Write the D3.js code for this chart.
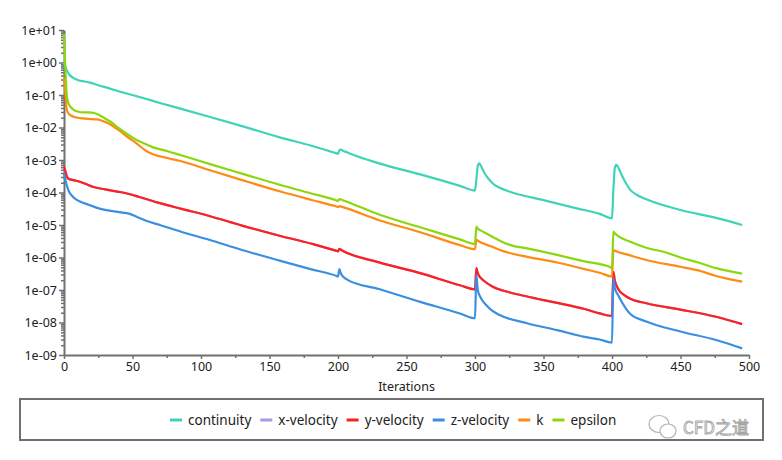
<!DOCTYPE html>
<html>
<head>
<meta charset="utf-8">
<script src="https://cdn.jsdelivr.net/npm/d3@7"></script>
<style>
  body { margin: 0; background: #fff; }
  svg text { font-family: "Noto Sans", sans-serif; fill: #222; }
</style>
</head>
<body>
<svg class="chart"></svg>
<script>
// residuals, [iteration, value]
var continuity = [[0,1.0],[1,0.75],[2,0.58],[4,0.42],[7,0.33],[11,0.28],[15,0.26],[19,0.24],[25,0.2],[33,0.16],[41,0.126],[55,0.087],[70,0.057],[85,0.038],[106,0.0215],[130,0.011],[158,4.9e-3],[180,2.8e-3],[199,1.6e-3],[200,1.55e-3],[201,2.0e-3],[202,2.1e-3],[204,1.9e-3],[207,1.7e-3],[210,1.5e-3],[230,7.9e-4],[260,3.6e-4],[289,1.6e-4],[300,1.15e-4],[301,2.5e-4],[302,6.5e-4],[303,7.9e-4],[304,7.0e-4],[307,3.9e-4],[310,2.6e-4],[313,1.9e-4],[318,1.4e-4],[325,1.07e-4],[350,5.8e-5],[375,3.2e-5],[391,2.2e-5],[400,1.6e-5],[401,1.2e-4],[402,5.5e-4],[403,7.1e-4],[404,6.5e-4],[407,3.5e-4],[410,2.0e-4],[413,1.25e-4],[418,8.5e-5],[425,6.2e-5],[450,2.9e-5],[476,1.65e-5],[495,1.0e-5]]

var yVelocity = [[0,6.3e-4],[1,4.5e-4],[2,3.2e-4],[3,2.7e-4],[6,2.45e-4],[9,2.3e-4],[15,1.9e-4],[21,1.5e-4],[30,1.25e-4],[40,1.05e-4],[46,9.3e-5],[55,7.3e-5],[70,4.7e-5],[85,3.2e-5],[106,1.9e-5],[130,9.6e-6],[158,4.6e-6],[180,2.7e-6],[199,1.6e-6],[200,1.55e-6],[201,1.85e-6],[203,1.65e-6],[230,7.1e-7],[260,3.3e-7],[289,1.4e-7],[300,1.05e-7],[301,4.7e-7],[302,3.3e-7],[304,2.4e-7],[306,2.0e-7],[313,1.26e-7],[325,8.5e-8],[338,6.3e-8],[360,4e-8],[380,2.6e-8],[391,1.9e-8],[400,1.6e-8],[401,3.6e-7],[402,2.0e-7],[405,1.0e-7],[409,7e-8],[413,5.5e-8],[425,3.9e-8],[450,2.5e-8],[476,1.5e-8],[495,8.9e-9]]

// x-velocity sits underneath y-velocity on the plot
var xVelocity = yVelocity

var zVelocity = [[0,3.9e-4],[1,2.5e-4],[2,1.7e-4],[3,1.25e-4],[4,1.0e-4],[6,7.8e-5],[9,6e-5],[12,5.2e-5],[18,4.2e-5],[26,3.2e-5],[35,2.7e-5],[43,2.4e-5],[48,2.2e-5],[53,1.8e-5],[60,1.35e-5],[70,1.0e-5],[85,6.3e-6],[106,3.5e-6],[130,1.7e-6],[158,7.9e-7],[180,4.4e-7],[199,2.7e-7],[200,2.6e-7],[201,4.4e-7],[202,3.3e-7],[204,2.5e-7],[207,2.05e-7],[230,1.07e-7],[260,4.3e-8],[289,1.9e-8],[300,1.35e-8],[301,2.9e-7],[302,1.0e-7],[304,6e-8],[308,3.5e-8],[312,2.4e-8],[318,1.7e-8],[338,9.5e-9],[360,5.8e-9],[380,3.6e-9],[391,3e-9],[400,2.4e-9],[401,2.3e-7],[402,1.2e-7],[405,6.3e-8],[409,3.2e-8],[413,1.9e-8],[425,1.07e-8],[450,5.3e-9],[476,2.9e-9],[495,1.6e-9]]

var k = [[0,0.33],[1,0.12],[2,0.035],[4,0.025],[7,0.0215],[10,0.02],[14,0.019],[20,0.018],[24,0.0178],[28,0.016],[33,0.013],[38,0.0095],[42,0.0072],[46,0.0052],[52,0.0035],[60,0.0019],[65,0.0015],[70,0.0013],[85,9.3e-4],[106,4.9e-4],[130,2.4e-4],[158,1.07e-4],[180,6e-5],[199,3.7e-5],[200,3.6e-5],[201,3.8e-5],[203,3.6e-5],[230,1.4e-5],[260,6e-6],[289,2.4e-6],[300,1.8e-6],[301,3.5e-6],[303,3.1e-6],[308,2.5e-6],[313,2.1e-6],[320,1.6e-6],[326,1.35e-6],[338,1.05e-6],[360,7e-7],[380,4.4e-7],[391,3.4e-7],[400,2.6e-7],[401,1.7e-6],[403,1.55e-6],[412,1.2e-6],[425,8.4e-7],[450,5.2e-7],[463,4.0e-7],[476,2.7e-7],[495,1.8e-7]]

var epsilon = [[0,7.5],[1,0.6],[2,0.1],[3,0.06],[5,0.042],[7,0.035],[10,0.031],[14,0.029],[18,0.029],[22,0.028],[26,0.024],[30,0.019],[35,0.014],[40,0.0095],[46,0.0063],[51,0.0046],[58,0.0033],[65,0.00245],[75,0.0019],[85,1.42e-3],[106,7.6e-4],[130,3.8e-4],[158,1.7e-4],[180,9.5e-5],[199,5.7e-5],[200,5.5e-5],[201,6.3e-5],[203,5.9e-5],[206,5.3e-5],[230,2.1e-5],[260,8.5e-6],[289,3.6e-6],[300,2.6e-6],[301,8.9e-6],[302,7.8e-6],[304,6.8e-6],[308,5.6e-6],[313,4.3e-6],[320,3.0e-6],[326,2.4e-6],[338,1.9e-6],[360,1.2e-6],[380,7.6e-7],[399,5e-7],[400,4.5e-7],[401,6.3e-6],[402,5.6e-6],[405,4.4e-6],[412,3.2e-6],[425,2.0e-6],[440,1.4e-6],[450,1.0e-6],[463,7.0e-7],[476,4.7e-7],[495,3.2e-7]]

var seriesNames  = ["continuity","x-velocity","y-velocity","z-velocity","k","epsilon"]
var seriesData   = [continuity, xVelocity, yVelocity, zVelocity, k, epsilon]
var seriesColors = ["#3fd3b8","#a99be3","#ff1f1f","#3a8fe0","#ff8a14","#8ad80c"]

var xTicks = [0,50,100,150,200,250,300,350,400,450,500]
var yTicks = [1e1,1e0,1e-1,1e-2,1e-3,1e-4,1e-5,1e-6,1e-7,1e-8,1e-9]

var W = 782, H = 460
var margin = {top: 30, right: 33, bottom: 105, left: 64},
    width  = W-margin.left-margin.right,
    height = H-margin.top-margin.bottom

var chart = d3.select(".chart")
              .attr("width", W)
              .attr("height", H)

var x = d3.scaleLinear().domain([0,500]).range([margin.left, margin.left+width])
var y = d3.scaleLog().domain([1e-9,1e1]).range([margin.top+height, margin.top])

function fmt(d) {
  var e = Math.round(Math.log10(d))
  return "1e" + (e < 0 ? "-" : "+") + String(Math.abs(e)).padStart(2,"0")
}

// minor log ticks 2..9 in every decade
var minorY = []
for (var e = -9; e < 1; e++) {
  for (var m = 2; m < 10; m++) minorY.push(m*Math.pow(10,e))
}
var minorX = [25,75,125,175,225,275,325,375,425,475]

var axisColor = "#707070"

chart.append("g")
  .attr("transform","translate(0,"+(margin.top+height)+")")
  .call(d3.axisBottom(x).tickValues(minorX).tickSize(3).tickFormat(""))
  .call(g => g.select(".domain").remove())

chart.append("g")
  .attr("transform","translate("+margin.left+",0)")
  .call(d3.axisLeft(y).tickValues(minorY).tickSize(3).tickFormat(""))
  .call(g => g.select(".domain").remove())

var xAxis = chart.append("g")
  .attr("transform","translate(0,"+(margin.top+height)+")")
  .call(d3.axisBottom(x).tickValues(xTicks).tickSize(4).tickSizeOuter(0).tickPadding(3))

var yAxis = chart.append("g")
  .attr("transform","translate("+margin.left+",0)")
  .call(d3.axisLeft(y).tickValues(yTicks).tickFormat(fmt).tickSize(5).tickSizeOuter(0).tickPadding(2))

chart.selectAll(".tick line").attr("stroke", axisColor).attr("stroke-width", 1.5)
chart.selectAll(".domain").attr("stroke", axisColor).attr("stroke-width", 2)
chart.selectAll(".tick text").attr("font-size", 12.5).attr("fill", "#222")
  .style("font-family", '"Noto Sans", sans-serif')

chart.append("text")
  .attr("x", margin.left+width/2)
  .attr("y", 391)
  .attr("text-anchor","middle")
  .attr("font-size", 12.5)
  .text("Iterations")

var line = d3.line()
  .x(function(d) { return x(d[0]) })
  .y(function(d) { return y(d[1]) })
  .curve(d3.curveMonotoneX)

chart.append("g").selectAll("path")
  .data(seriesData)
  .enter().append("path")
    .attr("d", line)
    .attr("fill","none")
    .attr("stroke", function(d,i) { return seriesColors[i] })
    .attr("stroke-width", 2.2)
    .attr("stroke-linejoin","round")

// legend
chart.append("rect")
  .attr("x", 20).attr("y", 399)
  .attr("width", 743).attr("height", 41)
  .attr("fill","#fff")
  .attr("stroke", axisColor)
  .attr("stroke-width", 2)

var legend = chart.append("g").attr("transform","translate(0,420)")
var lx = 170
seriesNames.forEach(function(name, i) {
  var item = legend.append("g").attr("transform","translate("+lx+",0)")
  item.append("line")
    .attr("x1",0).attr("x2",12)
    .attr("stroke", seriesColors[i]).attr("stroke-width", 3)
  var t = item.append("text")
    .attr("x", 18).attr("dy","0.35em")
    .attr("font-size", 13.5)
    .text(name)
  lx += 18 + t.node().getComputedTextLength() + 9
})

// watermark
var wm = chart.append("g").attr("transform","translate(648,428)").attr("opacity",0.75)
wm.append("ellipse").attr("cx",11).attr("cy",-4).attr("rx",10).attr("ry",8.5)
  .attr("fill","none").attr("stroke","#999").attr("stroke-width",1.2)
wm.append("ellipse").attr("cx",20).attr("cy",3).attr("rx",8).attr("ry",7)
  .attr("fill","#fff").attr("stroke","#999").attr("stroke-width",1.2)
wm.append("text")
  .attr("x", 35).attr("y", 6)
  .attr("font-size", 17)
  .style("font-family", '"Noto Sans CJK SC", "Noto Sans", sans-serif')
  .style("fill", "#fff")
  .attr("stroke", "#888").attr("stroke-width", 0.9)
  .text("CFD之道")
</script>
</body>
</html>
